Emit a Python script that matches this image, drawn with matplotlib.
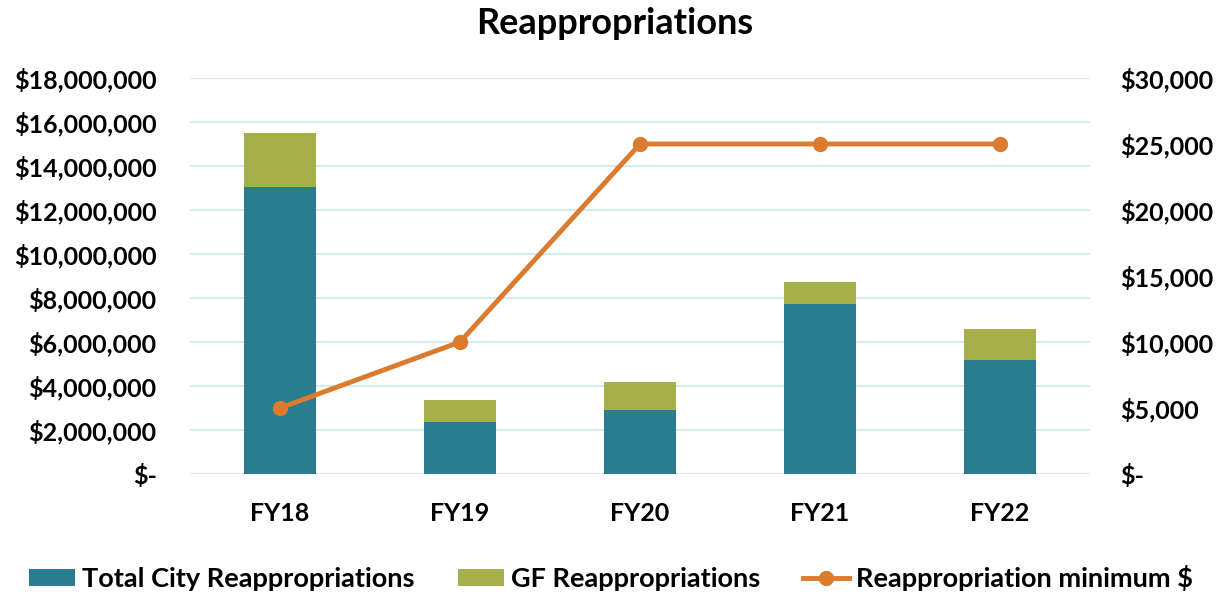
import matplotlib
matplotlib.use("Agg")
import matplotlib.pyplot as plt
from matplotlib.ticker import FuncFormatter, MultipleLocator
import numpy as np

years = ["FY18", "FY19", "FY20", "FY21", "FY22"]
total_city = [13_050_000, 2_360_000, 2_900_000, 7_730_000, 5_180_000]
gf = [2_450_000, 1_000_000, 1_280_000, 1_000_000, 1_420_000]
minimum = [5000, 10000, 25000, 25000, 25000]

TEAL = "#2A7D8F"
OLIVE = "#A6B04A"
ORANGE = "#DC7A2E"
GRID = "#D6EAF5"

plt.rcParams["font.family"] = ["Lato", "DejaVu Sans"]
plt.rcParams["font.weight"] = "bold"


def money(v, _pos=None):
    return "$-" if v == 0 else f"${v:,.0f}"


fig = plt.figure(figsize=(12.22, 5.96), dpi=100)
ax = fig.add_axes([0.1555, 0.2047, 0.7365, 0.6645])
ax2 = ax.twinx()

x = np.arange(len(years))
b1 = ax.bar(x, total_city, width=0.4, color=TEAL, label="Total City Reappropriations", zorder=2)
b2 = ax.bar(x, gf, width=0.4, bottom=total_city, color=OLIVE, label="GF Reappropriations", zorder=2)
ln, = ax2.plot(x, minimum, color=ORANGE, lw=3.5, marker="o", ms=10,
               label="Reappropriation minimum $", zorder=3)

ax.set_xlim(-0.5, len(years) - 0.5)
ax.set_ylim(0, 18_000_000)
ax.yaxis.set_major_locator(MultipleLocator(2_000_000))
ax.yaxis.set_major_formatter(FuncFormatter(money))
ax2.set_ylim(0, 30000)
ax2.yaxis.set_major_locator(MultipleLocator(5000))
ax2.yaxis.set_major_formatter(FuncFormatter(money))

ax.grid(axis="y", color=GRID, lw=1.5, zorder=0)
ax.set_axisbelow(True)
for a in (ax, ax2):
    for s in a.spines.values():
        s.set_visible(False)
    a.tick_params(length=0, labelsize=18)
ax.tick_params(axis="y", pad=24)
ax2.tick_params(axis="y", pad=22)
ax.tick_params(axis="x", pad=20)
ax.set_xticks(x)
ax.set_xticklabels(years)

fig.text(0.503, 0.96, "Reappropriations", ha="center", va="center",
         fontsize=26, fontweight="bold")

fig.legend([b1, b2, ln], [b1.get_label(), b2.get_label(), ln.get_label()],
           loc="lower center", bbox_to_anchor=(0.5, -0.032), ncol=3, frameon=False,
           fontsize=19.5, handlelength=1.7, handleheight=0.6, columnspacing=1.6,
           handletextpad=0.25)

fig.savefig("out.png", dpi=100)
